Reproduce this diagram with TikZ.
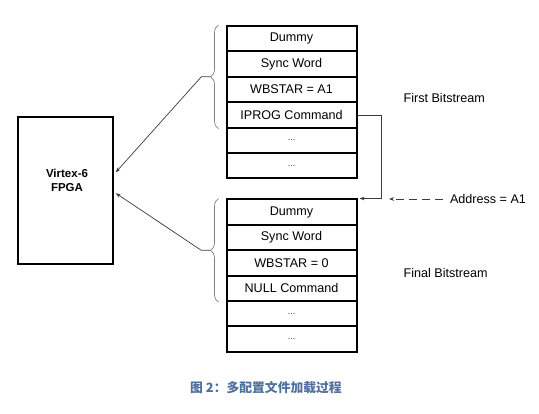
\documentclass[tikz,border=0pt]{standalone}
\usepackage{fontspec}
\setmainfont{Liberation Sans}
\newfontfamily\cjkfont{Noto Sans CJK SC}
\usetikzlibrary{positioning,calc,arrows.meta,decorations.pathreplacing}
\definecolor{capblue}{RGB}{80,112,158}
\definecolor{linegray}{RGB}{60,60,60}
\newcommand\rowdots{{\fontsize{9}{10}\selectfont\color{linegray}...}}
\tikzset{
    cell/.style={draw, line width=2pt, minimum width=130pt, minimum height=25.4pt, inner sep=0pt, font=\fontsize{12.6}{14}\selectfont},
    wire/.style={draw=linegray, line width=0.7pt},
    tip/.style={-{Stealth[length=5pt,width=3.6pt]}},
    curly/.style={draw=gray, line width=0.7pt, decorate, decoration={brace, amplitude=8pt}},
    plain/.style={inner sep=0pt, font=\fontsize{12.6}{14}\selectfont},
}

\begin{document}
\begin{tikzpicture}[x=1pt, y=-1pt]
    \useasboundingbox (0,0) rectangle (539,414);

    % FPGA
    \node[draw, line width=1.8pt, minimum width=95pt, minimum height=147pt] (fpga) at (65.8,190.4) {};
    \node[align=center, inner sep=0pt, font=\fontsize{11.5}{14}\selectfont\bfseries] (fpgalbl) at (67,180) {Virtex-6\\FPGA};

    % first bitstream
    \foreach \txt [count=\i] in {Dummy, Sync Word, WBSTAR = A1, IPROG Command, \rowdots, \rowdots}
        \node[cell] (first\i) at ({291.5},{13.3+25.4*\i}) {\txt};

    % final bitstream
    \foreach \txt [count=\i] in {Dummy, Sync Word, WBSTAR = 0, NULL Command, \rowdots, \rowdots}
        \node[cell] (second\i) at ({291.5},{186.8+25.4*\i}) {\txt};

    \node[plain, anchor=west] (firstlbl) at (403.4,97.7) {First Bitstream};
    \node[plain, anchor=west] (finallbl) at (403.4,273.3) {Final Bitstream};
    \node[plain] (addr) at (488,199) {Address = A1};
    \coordinate (addrend) at (389,199);

    % braces
    \coordinate (firsttop) at ($(first1.north west)+(-7,0)$);
    \coordinate (firstbot) at ($(first4.south west)+(-7,0)$);
    \coordinate (secondtop) at ($(second1.north west)+(-7,0)$);
    \coordinate (secondbot) at ($(second4.south west)+(-7,0)$);
    \draw[curly] (firstbot) -- (firsttop);
    \draw[curly] (secondbot) -- (secondtop);
    \coordinate (firsttip) at ($(firsttop)!0.5!(firstbot)+(-8.7,0)$);
    \coordinate (secondtip) at ($(secondtop)!0.5!(secondbot)+(-8.7,0)$);

    % loading
    \draw[wire, tip] (firsttip) -- ++(-8.5,0) -- ([xshift=1.5pt, yshift=18pt]fpga.east);
    \draw[wire, tip] (secondtip) -- ++(-8.5,0) -- ([xshift=1.5pt, yshift=-2.8pt]fpga.east);

    % jump
    \draw[wire, tip] (first4.east) -- ++(23.5,0) |- ([xshift=2pt]second1.north east);
    \draw[wire, dashed, dash pattern=on 8pt off 5pt, tip] ([xshift=-7pt]addr.west) -- (addrend);

    \node[inner sep=0pt, text=capblue, font=\cjkfont\bfseries\fontsize{12.8}{14}\selectfont] (caption) at (266,388) {图 2：多配置文件加载过程};
\end{tikzpicture}
\end{document}
